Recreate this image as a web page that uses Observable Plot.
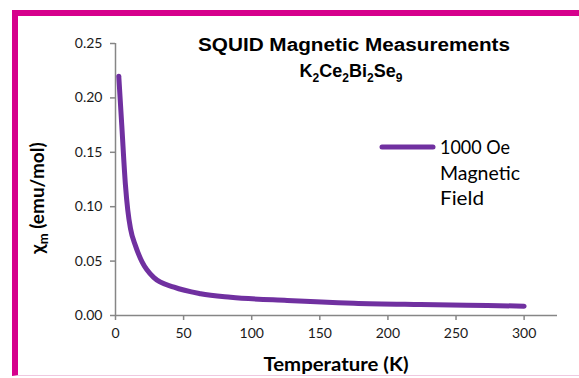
<!DOCTYPE html>
<html>
<head>
<meta charset="utf-8">
<script src="https://cdn.jsdelivr.net/npm/d3@7"></script>
<script src="https://cdn.jsdelivr.net/npm/@observablehq/plot@0.6"></script>
<style>
  html, body { margin: 0; padding: 0; background: #fff; }
  #wrap { position: relative; width: 579px; height: 378px; overflow: hidden; }
  #frame { position: absolute; left: 12px; top: 10px; right: -10px; bottom: 2px;
           border-left: 6px solid #D6008C; border-top: 6px solid #D6008C;
           border-bottom: 1px solid #F0C8E0; }
  #chart { position: absolute; left: 0; top: 0; }
</style>
</head>
<body>
<div id="wrap"><div id="frame"></div><div id="chart"></div></div>
<script>
// Data
const temperature = [2.4, 4.6, 7.3, 9, 11, 14.7, 19.6, 28, 43, 62.5, 84.5, 126, 175, 224, 273, 300];
const chiM = [0.220, 0.175, 0.120, 0.097, 0.080, 0.064, 0.049, 0.035, 0.026, 0.020, 0.0168, 0.0138, 0.0113, 0.0101, 0.0092, 0.0086];
const xTicks = [0, 50, 100, 150, 200, 250, 300];
const yTicks = [0, 0.05, 0.10, 0.15, 0.20, 0.25];
const seriesName = ["1000 Oe", "Magnetic", "Field"];

const data = temperature.map((t, i) => ({T: t, chi: chiM[i]}));
const axisColor = "#868686";
const lineColor = "#7030A0";

const chart = Plot.plot({
  width: 579,
  height: 378,
  marginLeft: 115,
  marginRight: 22,
  marginTop: 43,
  marginBottom: 63,
  style: {fontFamily: "Lato, 'Open Sans', sans-serif", fontSize: "14px", color: "#1a1a1a", background: "transparent"},
  x: {domain: [0, 324.5]},
  y: {domain: [0, 0.25]},
  marks: [
    Plot.axisX({ticks: xTicks, tickSize: 5, tickPadding: 8, tickFormat: d => String(d), stroke: axisColor, strokeWidth: 1.5, label: null, fill: "#1a1a1a"}),
    Plot.axisY({ticks: yTicks, tickSize: 5, tickPadding: 8, tickFormat: d3.format(".2f"), stroke: axisColor, strokeWidth: 1.5, label: null, fill: "#1a1a1a"}),
    Plot.ruleY([0], {stroke: axisColor, strokeWidth: 1.5}),
    Plot.ruleX([0], {stroke: axisColor, strokeWidth: 1.5}),
    Plot.line(data, {x: "T", y: "chi", stroke: lineColor, strokeWidth: 5, curve: "monotone-x", strokeLinecap: "round", strokeLinejoin: "round"})
  ]
});
document.getElementById("chart").appendChild(chart);

const svg = d3.select(chart);
// Title
svg.append("text").attr("x", 354).attr("y", 51).attr("text-anchor", "middle")
  .attr("font-family", "'Liberation Sans', Arial, sans-serif").attr("font-weight", "bold").attr("font-size", 18)
  .attr("fill", "#000").attr("textLength", 312).attr("lengthAdjust", "spacingAndGlyphs")
  .text("SQUID Magnetic Measurements");
const sub = svg.append("text").attr("x", 351).attr("y", 77).attr("text-anchor", "middle")
  .attr("font-family", "'Liberation Sans', Arial, sans-serif").attr("font-weight", "bold").attr("font-size", 18)
  .attr("fill", "#000");
const formula = [["K", false], ["2", true], ["Ce", false], ["2", true], ["Bi", false], ["2", true], ["Se", false], ["9", true]];
formula.forEach(([s, isSub], i) => {
  const ts = sub.append("tspan").text(s);
  if (isSub) ts.attr("font-size", 12).attr("dy", 5);
  else if (i > 0) ts.attr("dy", -5);
});

// Y axis label
const yl = svg.append("text").attr("transform", "translate(44,198) rotate(-90)").attr("text-anchor", "middle")
  .attr("font-family", "Lato, sans-serif").attr("font-weight", "bold").attr("font-size", 19).attr("fill", "#000");
yl.append("tspan").text("χ");
yl.append("tspan").text("m").attr("font-size", 13).attr("dy", 4);
yl.append("tspan").text(" (emu/mol)").attr("dy", -4);

// X axis label
svg.append("text").attr("x", 336).attr("y", 371).attr("text-anchor", "middle")
  .attr("font-family", "Lato, sans-serif").attr("font-weight", "bold").attr("font-size", 19).attr("fill", "#000")
  .attr("textLength", 145).attr("lengthAdjust", "spacingAndGlyphs")
  .text("Temperature (K)");

// Legend
svg.append("line").attr("x1", 382).attr("x2", 433).attr("y1", 147).attr("y2", 147)
  .attr("stroke", lineColor).attr("stroke-width", 5).attr("stroke-linecap", "round");
const legW = [70, 80, 44];
seriesName.forEach((s, i) => {
  svg.append("text").attr("x", 440).attr("y", 154 + i * 25.5).attr("text-anchor", "start")
    .attr("font-family", "Lato, sans-serif").attr("font-size", 19).attr("fill", "#000")
    .attr("textLength", legW[i]).attr("lengthAdjust", "spacingAndGlyphs")
    .text(s);
});
</script>
</body>
</html>
